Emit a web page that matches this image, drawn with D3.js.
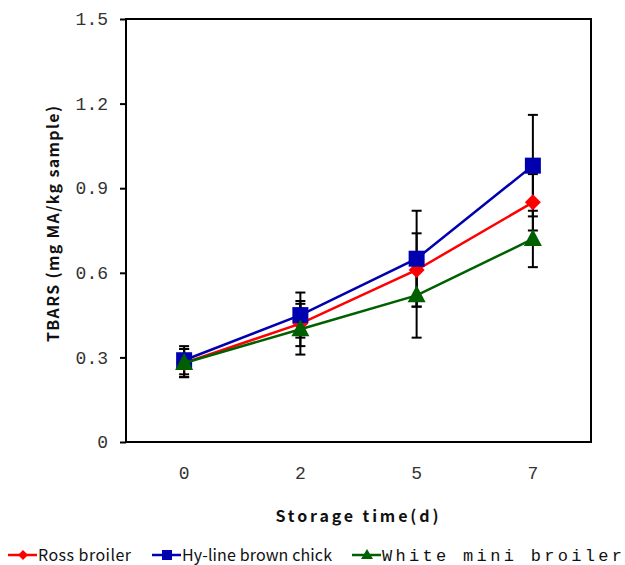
<!DOCTYPE html>
<html lang="en">
<head>
<meta charset="UTF-8">
<title>TBARS</title>
<script src="https://d3js.org/d3.v7.min.js"></script>
<style>
  body { margin: 0; background: #fff; }
  svg { display: block; }
  .tick-label { font-family: "Liberation Mono", "DejaVu Sans Mono", monospace; font-size: 18px; fill: #333; }
  .axis-title { font-family: "Noto Sans CJK SC", "DejaVu Sans", sans-serif; font-size: 16px; font-weight: bold; fill: #111; }
  .legend-text { font-family: "Noto Sans CJK SC", "DejaVu Sans", sans-serif; font-size: 16px; fill: #111; }
  .legend-text.mono { font-family: "Liberation Mono", "DejaVu Sans Mono", monospace; font-size: 17px; }
</style>
</head>
<body>
<svg id="chart"></svg>
<script>
var days = ["0", "2", "5", "7"];
var yTicks = [0, 0.3, 0.6, 0.9, 1.2, 1.5];
var seriesNames = ["Ross broiler", "Hy-line brown chick", "White mini broiler"];
var rossValues = [0.28, 0.42, 0.61, 0.85];
var hylineValues = [0.29, 0.45, 0.65, 0.98];
var whiteValues = [0.28, 0.40, 0.52, 0.72];
var rossErr = [0.05, 0.08, 0.13, 0.10];
var hylineErr = [0.05, 0.08, 0.17, 0.18];
var whiteErr = [0.05, 0.09, 0.15, 0.10];

var width = 625, height = 565;
var box = { left: 126, right: 591, top: 19, bottom: 442 };

var svg = d3.select("#chart").attr("width", width).attr("height", height);

var x = d3.scaleBand().domain(days).range([box.left, box.right]);
var y = d3.scaleLinear().domain([0, 1.5]).range([box.bottom, box.top]);

var series = [
  { name: seriesNames[0], values: rossValues, err: rossErr, color: "#ff0000", marker: "diamond" },
  { name: seriesNames[1], values: hylineValues, err: hylineErr, color: "#0000b0", marker: "square" },
  { name: seriesNames[2], values: whiteValues, err: whiteErr, color: "#006000", marker: "triangle" }
];

function cx(d, i) { return x(days[i]) + x.bandwidth() / 2; }

// frame
svg.append("rect")
  .attr("x", box.left).attr("y", box.top)
  .attr("width", box.right - box.left).attr("height", box.bottom - box.top)
  .attr("fill", "none").attr("stroke", "#000").attr("stroke-width", 2);

// y axis ticks + labels
var yAxis = svg.append("g").attr("transform", "translate(" + box.left + ",0)")
  .call(d3.axisLeft(y).tickValues(yTicks).tickSize(6).tickPadding(12)
    .tickFormat(function(d) { return d === 0 ? "0" : d3.format(".1f")(d); }));
yAxis.select(".domain").remove();
yAxis.selectAll(".tick line").attr("stroke", "#000").attr("stroke-width", 2);
yAxis.selectAll(".tick text").attr("class", "tick-label").attr("fill", null);

// x labels
var xAxis = svg.append("g").attr("transform", "translate(0," + box.bottom + ")")
  .call(d3.axisBottom(x).tickSize(0).tickPadding(24));
xAxis.select(".domain").remove();
xAxis.selectAll(".tick text").attr("class", "tick-label").attr("fill", null);

// axis titles
svg.append("text").attr("class", "axis-title")
  .attr("transform", "translate(53,224) rotate(-90)")
  .attr("text-anchor", "middle").attr("dy", "0.35em")
  .attr("textLength", 236).attr("lengthAdjust", "spacing")
  .text("TBARS (mg MA/kg sample)");
svg.append("text").attr("class", "axis-title")
  .attr("x", 357).attr("y", 522).attr("text-anchor", "middle")
  .attr("textLength", 163).attr("lengthAdjust", "spacing")
  .text("Storage time(d)");

// error bars
series.forEach(function(s) {
  var g = svg.append("g");
  s.values.forEach(function(v, i) {
    var px = cx(v, i), top = y(v + s.err[i]), bot = y(v - s.err[i]);
    g.append("line").attr("x1", px).attr("x2", px).attr("y1", top).attr("y2", bot)
      .attr("stroke", "#000").attr("stroke-width", 2);
    [top, bot].forEach(function(yy) {
      g.append("line").attr("x1", px - 5).attr("x2", px + 5).attr("y1", yy).attr("y2", yy)
        .attr("stroke", "#000").attr("stroke-width", 2);
    });
  });
});

var symbols = {
  diamond: function(sel, px, py, c) {
    sel.append("path").attr("d", "M" + px + "," + (py - 8) + "L" + (px + 8) + "," + py + "L" + px + "," + (py + 8) + "L" + (px - 8) + "," + py + "Z").attr("fill", c);
  },
  square: function(sel, px, py, c) {
    sel.append("rect").attr("x", px - 8).attr("y", py - 8).attr("width", 16).attr("height", 16).attr("fill", c);
  },
  triangle: function(sel, px, py, c) {
    sel.append("path").attr("d", "M" + px + "," + (py - 10) + "L" + (px + 9) + "," + (py + 7) + "L" + (px - 9) + "," + (py + 7) + "Z").attr("fill", c);
  }
};

var line = d3.line().x(cx).y(function(d) { return y(d); });

series.forEach(function(s) {
  var g = svg.append("g");
  g.append("path").datum(s.values).attr("d", line)
    .attr("fill", "none").attr("stroke", s.color).attr("stroke-width", 2.5);
  s.values.forEach(function(v, i) {
    symbols[s.marker](g, cx(v, i), y(v), s.color);
  });
});

// legend
var legendX = [8, 152, 352];
var legendLen = [93, 150, 240];
series.forEach(function(s, i) {
  var g = svg.append("g");
  var lx = legendX[i], ly = 555;
  g.append("line").attr("x1", lx).attr("x2", lx + 29).attr("y1", ly).attr("y2", ly)
    .attr("stroke", s.color).attr("stroke-width", 2.5);
  var mx = lx + 15, c = s.color;
  if (s.marker === "diamond") {
    g.append("path").attr("d", "M" + mx + "," + (ly - 5) + "L" + (mx + 5) + "," + ly + "L" + mx + "," + (ly + 5) + "L" + (mx - 5) + "," + ly + "Z").attr("fill", c);
  } else if (s.marker === "square") {
    g.append("rect").attr("x", mx - 5).attr("y", ly - 5).attr("width", 10).attr("height", 10).attr("fill", c);
  } else {
    g.append("path").attr("d", "M" + mx + "," + (ly - 6) + "L" + (mx + 6) + "," + (ly + 4) + "L" + (mx - 6) + "," + (ly + 4) + "Z").attr("fill", c);
  }
  g.append("text").attr("class", i === 2 ? "legend-text mono" : "legend-text")
    .attr("x", lx + 30).attr("y", ly).attr("dy", "0.35em")
    .attr("textLength", legendLen[i]).attr("lengthAdjust", "spacing")
    .text(s.name);
});
</script>
</body>
</html>
